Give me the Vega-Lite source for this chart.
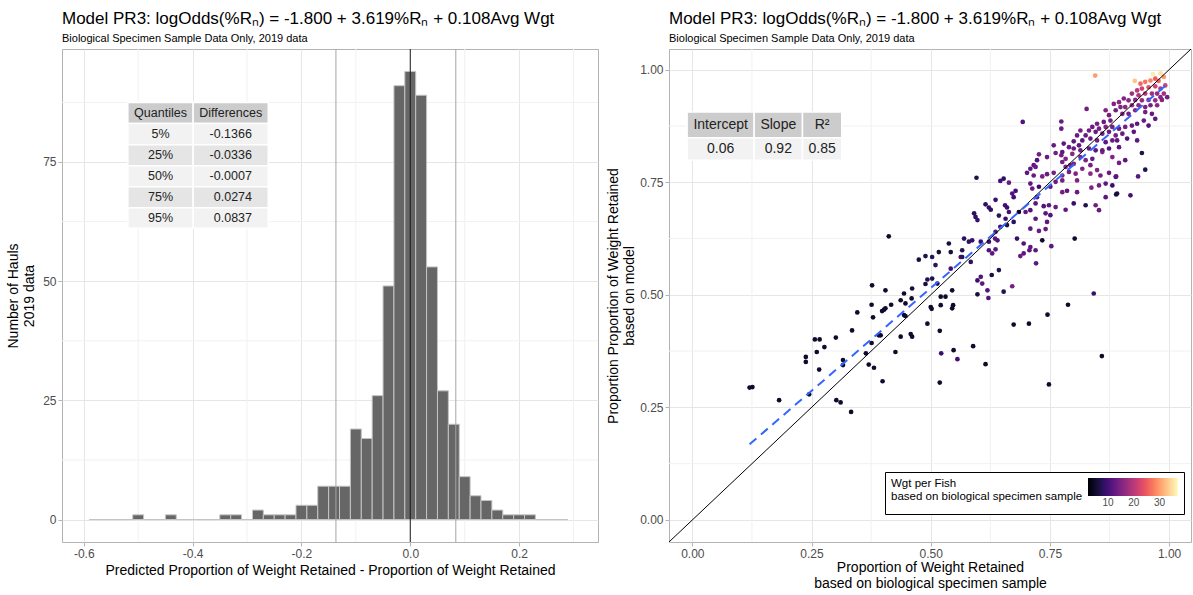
{
  "$schema": "https://vega.github.io/schema/vega-lite/v6.json",
  "config": {
    "font": "Liberation Sans",
    "view": {"stroke": "#b3b3b3", "strokeWidth": 1},
    "axis": {"gridColor": "#e6e6e6", "gridWidth": 1, "domain": false, "tickColor": "#b3b3b3", "tickSize": 4, "labelColor": "#4d4d4d", "labelFontSize": 12, "labelPadding": 2, "titleColor": "black", "titleFontSize": 14, "titleFontWeight": "normal", "titlePadding": 4},
    "title": {"anchor": "start", "fontSize": 17, "fontWeight": "normal", "color": "black", "subtitleFontSize": 11, "subtitleColor": "black", "subtitlePadding": 5, "offset": 4}
  },
  "padding": {"left": 6, "top": 9, "right": 0, "bottom": 0},
  "spacing": 7,
  "datasets": {
    "hist": [
      {"lo": -0.59, "hi": -0.57, "count": 0}, {"lo": -0.57, "hi": -0.55, "count": 0}, {"lo": -0.55, "hi": -0.53, "count": 0}, {"lo": -0.53, "hi": -0.51, "count": 0},
      {"lo": -0.51, "hi": -0.49, "count": 1}, {"lo": -0.49, "hi": -0.47, "count": 0}, {"lo": -0.47, "hi": -0.45, "count": 0}, {"lo": -0.45, "hi": -0.43, "count": 1},
      {"lo": -0.43, "hi": -0.41, "count": 0}, {"lo": -0.41, "hi": -0.39, "count": 0}, {"lo": -0.39, "hi": -0.37, "count": 0}, {"lo": -0.37, "hi": -0.35, "count": 0},
      {"lo": -0.35, "hi": -0.33, "count": 1}, {"lo": -0.33, "hi": -0.31, "count": 1}, {"lo": -0.31, "hi": -0.29, "count": 0}, {"lo": -0.29, "hi": -0.27, "count": 2},
      {"lo": -0.27, "hi": -0.25, "count": 1}, {"lo": -0.25, "hi": -0.23, "count": 1}, {"lo": -0.23, "hi": -0.21, "count": 1}, {"lo": -0.21, "hi": -0.19, "count": 3},
      {"lo": -0.19, "hi": -0.17, "count": 3}, {"lo": -0.17, "hi": -0.15, "count": 7}, {"lo": -0.15, "hi": -0.13, "count": 7}, {"lo": -0.13, "hi": -0.11, "count": 7},
      {"lo": -0.11, "hi": -0.09, "count": 19}, {"lo": -0.09, "hi": -0.07, "count": 17}, {"lo": -0.07, "hi": -0.05, "count": 26}, {"lo": -0.05, "hi": -0.03, "count": 49},
      {"lo": -0.03, "hi": -0.01, "count": 91}, {"lo": -0.01, "hi": 0.01, "count": 94}, {"lo": 0.01, "hi": 0.03, "count": 89}, {"lo": 0.03, "hi": 0.05, "count": 53},
      {"lo": 0.05, "hi": 0.07, "count": 27}, {"lo": 0.07, "hi": 0.09, "count": 20}, {"lo": 0.09, "hi": 0.11, "count": 9}, {"lo": 0.11, "hi": 0.13, "count": 5},
      {"lo": 0.13, "hi": 0.15, "count": 4}, {"lo": 0.15, "hi": 0.17, "count": 2}, {"lo": 0.17, "hi": 0.19, "count": 1}, {"lo": 0.19, "hi": 0.21, "count": 1},
      {"lo": 0.21, "hi": 0.23, "count": 1}, {"lo": 0.23, "hi": 0.25, "count": 0}, {"lo": 0.25, "hi": 0.27, "count": 0}, {"lo": 0.27, "hi": 0.29, "count": 0}
    ],
    "lminx": [{"v": -0.5}, {"v": -0.3}, {"v": -0.1}, {"v": 0.1}, {"v": 0.3}],
    "lminy": [{"v": 12.5}, {"v": 37.5}, {"v": 62.5}, {"v": 87.5}],
    "rmin": [{"v": 0.125}, {"v": 0.375}, {"v": 0.625}, {"v": 0.875}],
    "qlines": [{"x": -0.1366}, {"x": 0.0837}],
    "zline": [{"x": 0}],
    "lcells": [
      {"label": "Quantiles", "kind": "header", "x1": -0.519, "x2": -0.399, "cx": -0.459, "y1": 83.1, "y2": 87.5, "cy": 85.3},
      {"label": "Differences", "kind": "header", "x1": -0.399, "x2": -0.261, "cx": -0.33, "y1": 83.1, "y2": 87.5, "cy": 85.3},
      {"label": "5%", "kind": "odd", "x1": -0.519, "x2": -0.399, "cx": -0.459, "y1": 78.6, "y2": 83.1, "cy": 80.85},
      {"label": "-0.1366", "kind": "odd", "x1": -0.399, "x2": -0.261, "cx": -0.33, "y1": 78.6, "y2": 83.1, "cy": 80.85},
      {"label": "25%", "kind": "even", "x1": -0.519, "x2": -0.399, "cx": -0.459, "y1": 74.2, "y2": 78.6, "cy": 76.4},
      {"label": "-0.0336", "kind": "even", "x1": -0.399, "x2": -0.261, "cx": -0.33, "y1": 74.2, "y2": 78.6, "cy": 76.4},
      {"label": "50%", "kind": "odd", "x1": -0.519, "x2": -0.399, "cx": -0.459, "y1": 69.8, "y2": 74.2, "cy": 72.0},
      {"label": "-0.0007", "kind": "odd", "x1": -0.399, "x2": -0.261, "cx": -0.33, "y1": 69.8, "y2": 74.2, "cy": 72.0},
      {"label": "75%", "kind": "even", "x1": -0.519, "x2": -0.399, "cx": -0.459, "y1": 65.4, "y2": 69.8, "cy": 67.6},
      {"label": "0.0274", "kind": "even", "x1": -0.399, "x2": -0.261, "cx": -0.326, "y1": 65.4, "y2": 69.8, "cy": 67.6},
      {"label": "95%", "kind": "odd", "x1": -0.519, "x2": -0.399, "cx": -0.459, "y1": 61.1, "y2": 65.4, "cy": 63.25},
      {"label": "0.0837", "kind": "odd", "x1": -0.399, "x2": -0.261, "cx": -0.326, "y1": 61.1, "y2": 65.4, "cy": 63.25}
    ],
    "rcells": [
      {"label": "Intercept", "kind": "header", "x1": -0.011, "x2": 0.1296, "cx": 0.0593, "y1": 0.849, "y2": 0.906, "cy": 0.8775},
      {"label": "Slope", "kind": "header", "x1": 0.1296, "x2": 0.231, "cx": 0.1803, "y1": 0.849, "y2": 0.906, "cy": 0.8775},
      {"label": "R²", "kind": "header", "x1": 0.231, "x2": 0.3134, "cx": 0.2722, "y1": 0.849, "y2": 0.906, "cy": 0.8775},
      {"label": "0.06", "kind": "odd", "x1": -0.011, "x2": 0.1296, "cx": 0.0593, "y1": 0.799, "y2": 0.849, "cy": 0.824},
      {"label": "0.92", "kind": "odd", "x1": 0.1296, "x2": 0.231, "cx": 0.1803, "y1": 0.799, "y2": 0.849, "cy": 0.824},
      {"label": "0.85", "kind": "odd", "x1": 0.231, "x2": 0.3134, "cx": 0.2722, "y1": 0.799, "y2": 0.849, "cy": 0.824}
    ],
    "idline": [{"obs": -0.1, "pred": -0.1}, {"obs": 1.1, "pred": 1.1}],
    "fitline": [{"obs": 0.12, "pred": 0.168}, {"obs": 0.995, "pred": 0.967}],
    "pts": [
      {"obs":0.727,"pred":0.812,"wgt":14},{"obs":0.744,"pred":0.806,"wgt":13},{"obs":0.762,"pred":0.815,"wgt":14},{"obs":0.774,"pred":0.810,"wgt":14},{"obs":0.783,"pred":0.802,"wgt":15},
      {"obs":0.797,"pred":0.813,"wgt":16},{"obs":0.800,"pred":0.791,"wgt":14},{"obs":0.814,"pred":0.806,"wgt":15},{"obs":0.825,"pred":0.799,"wgt":15},{"obs":0.835,"pred":0.788,"wgt":14},
      {"obs":0.860,"pred":0.817,"wgt":16},{"obs":0.881,"pred":0.806,"wgt":15},{"obs":0.895,"pred":0.793,"wgt":14},{"obs":0.716,"pred":0.788,"wgt":12},{"obs":0.709,"pred":0.780,"wgt":12},
      {"obs":0.720,"pred":0.784,"wgt":13},{"obs":0.702,"pred":0.771,"wgt":12},{"obs":0.716,"pred":0.765,"wgt":13},{"obs":0.734,"pred":0.763,"wgt":14},{"obs":0.744,"pred":0.768,"wgt":13},
      {"obs":0.758,"pred":0.771,"wgt":14},{"obs":0.776,"pred":0.765,"wgt":15},{"obs":0.790,"pred":0.773,"wgt":14},{"obs":0.804,"pred":0.769,"wgt":15},{"obs":0.818,"pred":0.780,"wgt":15},
      {"obs":0.835,"pred":0.769,"wgt":16},{"obs":0.849,"pred":0.777,"wgt":15},{"obs":0.856,"pred":0.765,"wgt":14},{"obs":0.874,"pred":0.771,"wgt":13},{"obs":0.888,"pred":0.762,"wgt":9},
      {"obs":0.776,"pred":0.795,"wgt":14},{"obs":0.783,"pred":0.784,"wgt":15},{"obs":0.793,"pred":0.788,"wgt":14},{"obs":0.807,"pred":0.754,"wgt":15},{"obs":0.776,"pred":0.754,"wgt":14},
      {"obs":0.762,"pred":0.751,"wgt":13},{"obs":0.596,"pred":0.760,"wgt":7},{"obs":0.646,"pred":0.753,"wgt":10},{"obs":0.653,"pred":0.758,"wgt":8},{"obs":0.664,"pred":0.749,"wgt":13},
      {"obs":0.709,"pred":0.747,"wgt":12},{"obs":0.727,"pred":0.740,"wgt":9},{"obs":0.713,"pred":0.736,"wgt":13},{"obs":0.751,"pred":0.740,"wgt":12},{"obs":0.776,"pred":0.728,"wgt":14},
      {"obs":0.786,"pred":0.731,"wgt":12},{"obs":0.807,"pred":0.728,"wgt":13},{"obs":0.837,"pred":0.738,"wgt":15},{"obs":0.853,"pred":0.743,"wgt":14},{"obs":0.867,"pred":0.747,"wgt":12},
      {"obs":0.881,"pred":0.743,"wgt":9},{"obs":0.891,"pred":0.725,"wgt":7},{"obs":0.867,"pred":0.717,"wgt":12},{"obs":0.846,"pred":0.699,"wgt":14},{"obs":0.825,"pred":0.699,"wgt":7},
      {"obs":0.853,"pred":0.688,"wgt":13},{"obs":0.800,"pred":0.703,"wgt":9},{"obs":0.783,"pred":0.689,"wgt":12},{"obs":0.762,"pred":0.695,"wgt":13},{"obs":0.748,"pred":0.699,"wgt":12},
      {"obs":0.737,"pred":0.697,"wgt":11},{"obs":0.723,"pred":0.717,"wgt":12},{"obs":0.720,"pred":0.703,"wgt":12},{"obs":0.709,"pred":0.688,"wgt":11},{"obs":0.699,"pred":0.684,"wgt":12},
      {"obs":0.678,"pred":0.731,"wgt":10},{"obs":0.671,"pred":0.725,"wgt":11},{"obs":0.674,"pred":0.717,"wgt":10},{"obs":0.636,"pred":0.711,"wgt":9},{"obs":0.615,"pred":0.701,"wgt":8},
      {"obs":0.622,"pred":0.694,"wgt":9},{"obs":0.626,"pred":0.689,"wgt":8},{"obs":0.656,"pred":0.699,"wgt":10},{"obs":0.660,"pred":0.694,"wgt":9},{"obs":0.664,"pred":0.684,"wgt":10},
      {"obs":0.643,"pred":0.676,"wgt":8},{"obs":0.591,"pred":0.681,"wgt":8},{"obs":0.594,"pred":0.673,"wgt":8},{"obs":0.598,"pred":0.666,"wgt":9},{"obs":0.685,"pred":0.684,"wgt":5},
      {"obs":0.741,"pred":0.681,"wgt":12},{"obs":0.751,"pred":0.677,"wgt":11},{"obs":0.744,"pred":0.662,"wgt":12},{"obs":0.720,"pred":0.669,"wgt":12},{"obs":0.657,"pred":0.669,"wgt":9},
      {"obs":0.674,"pred":0.662,"wgt":8},{"obs":0.660,"pred":0.655,"wgt":6},{"obs":0.646,"pred":0.651,"wgt":10},{"obs":0.636,"pred":0.640,"wgt":11},{"obs":0.635,"pred":0.625,"wgt":12},
      {"obs":0.640,"pred":0.621,"wgt":11},{"obs":0.622,"pred":0.618,"wgt":9},{"obs":0.605,"pred":0.618,"wgt":9},{"obs":0.587,"pred":0.621,"wgt":9},{"obs":0.580,"pred":0.618,"wgt":8},
      {"obs":0.570,"pred":0.625,"wgt":8},{"obs":0.566,"pred":0.599,"wgt":7},{"obs":0.566,"pred":0.584,"wgt":7},{"obs":0.538,"pred":0.614,"wgt":6},{"obs":0.542,"pred":0.595,"wgt":6},
      {"obs":0.517,"pred":0.595,"wgt":6},{"obs":0.503,"pred":0.584,"wgt":8},{"obs":0.489,"pred":0.586,"wgt":7},{"obs":0.475,"pred":0.578,"wgt":6},{"obs":0.510,"pred":0.566,"wgt":8},
      {"obs":0.563,"pred":0.584,"wgt":9},{"obs":0.584,"pred":0.573,"wgt":8},{"obs":0.622,"pred":0.599,"wgt":11},{"obs":0.629,"pred":0.592,"wgt":12},{"obs":0.636,"pred":0.601,"wgt":12},
      {"obs":0.681,"pred":0.625,"wgt":9},{"obs":0.695,"pred":0.614,"wgt":11},{"obs":0.709,"pred":0.647,"wgt":12},{"obs":0.727,"pred":0.642,"wgt":13},{"obs":0.741,"pred":0.646,"wgt":13},
      {"obs":0.734,"pred":0.621,"wgt":5},{"obs":0.753,"pred":0.608,"wgt":12},{"obs":0.709,"pred":0.606,"wgt":12},{"obs":0.707,"pred":0.599,"wgt":12},{"obs":0.695,"pred":0.592,"wgt":12},
      {"obs":0.688,"pred":0.586,"wgt":13},{"obs":0.720,"pred":0.599,"wgt":12},{"obs":0.721,"pred":0.570,"wgt":12},{"obs":0.802,"pred":0.625,"wgt":5},{"obs":0.598,"pred":0.532,"wgt":9},
      {"obs":0.605,"pred":0.540,"wgt":11},{"obs":0.608,"pred":0.525,"wgt":12},{"obs":0.619,"pred":0.510,"wgt":11},{"obs":0.621,"pred":0.493,"wgt":11},{"obs":0.628,"pred":0.544,"wgt":6},
      {"obs":0.643,"pred":0.555,"wgt":7},{"obs":0.653,"pred":0.507,"wgt":7},{"obs":0.671,"pred":0.519,"wgt":14},{"obs":0.598,"pred":0.501,"wgt":6},{"obs":0.542,"pred":0.558,"wgt":10},
      {"obs":0.514,"pred":0.525,"wgt":7},{"obs":0.503,"pred":0.536,"wgt":7},{"obs":0.493,"pred":0.534,"wgt":7},{"obs":0.489,"pred":0.524,"wgt":6},{"obs":0.461,"pred":0.514,"wgt":6},
      {"obs":0.444,"pred":0.503,"wgt":5},{"obs":0.460,"pred":0.492,"wgt":5},{"obs":0.447,"pred":0.481,"wgt":5},{"obs":0.437,"pred":0.488,"wgt":5},{"obs":0.521,"pred":0.496,"wgt":5},
      {"obs":0.531,"pred":0.496,"wgt":5},{"obs":0.545,"pred":0.510,"wgt":5},{"obs":0.547,"pred":0.477,"wgt":5},{"obs":0.545,"pred":0.470,"wgt":5},{"obs":0.521,"pred":0.477,"wgt":5},
      {"obs":0.500,"pred":0.473,"wgt":5},{"obs":0.502,"pred":0.469,"wgt":5},{"obs":0.444,"pred":0.455,"wgt":5},{"obs":0.447,"pred":0.453,"wgt":5},{"obs":0.493,"pred":0.436,"wgt":5},
      {"obs":0.519,"pred":0.420,"wgt":5},{"obs":0.458,"pred":0.413,"wgt":5},{"obs":0.461,"pred":0.407,"wgt":5},{"obs":0.437,"pred":0.407,"wgt":5},{"obs":0.674,"pred":0.434,"wgt":5},
      {"obs":0.706,"pred":0.436,"wgt":5},{"obs":0.745,"pred":0.456,"wgt":5},{"obs":0.788,"pred":0.478,"wgt":5},{"obs":0.842,"pred":0.503,"wgt":9},
      {"obs":0.845,"pred":0.987,"wgt":30},{"obs":0.966,"pred":0.990,"wgt":36},{"obs":0.982,"pred":0.992,"wgt":35},{"obs":0.989,"pred":0.984,"wgt":30},{"obs":0.928,"pred":0.975,"wgt":33},
      {"obs":0.940,"pred":0.969,"wgt":26},{"obs":0.950,"pred":0.973,"wgt":27},{"obs":0.961,"pred":0.976,"wgt":28},{"obs":0.971,"pred":0.980,"wgt":25},{"obs":0.978,"pred":0.975,"wgt":26},
      {"obs":0.992,"pred":0.965,"wgt":22},{"obs":0.957,"pred":0.961,"wgt":24},{"obs":0.971,"pred":0.963,"wgt":22},{"obs":0.982,"pred":0.958,"wgt":20},{"obs":0.943,"pred":0.958,"wgt":22},
      {"obs":0.933,"pred":0.954,"wgt":20},{"obs":0.922,"pred":0.947,"wgt":18},{"obs":0.936,"pred":0.943,"wgt":19},{"obs":0.950,"pred":0.947,"wgt":20},{"obs":0.964,"pred":0.947,"wgt":18},
      {"obs":0.975,"pred":0.947,"wgt":17},{"obs":0.989,"pred":0.947,"wgt":18},{"obs":0.982,"pred":0.939,"wgt":16},{"obs":0.971,"pred":0.932,"wgt":17},{"obs":0.957,"pred":0.933,"wgt":16},
      {"obs":0.943,"pred":0.932,"wgt":17},{"obs":0.929,"pred":0.933,"wgt":16},{"obs":0.915,"pred":0.932,"wgt":16},{"obs":0.905,"pred":0.936,"wgt":15},{"obs":0.895,"pred":0.928,"wgt":16},
      {"obs":0.884,"pred":0.924,"wgt":15},{"obs":0.898,"pred":0.917,"wgt":15},{"obs":0.908,"pred":0.917,"wgt":16},{"obs":0.922,"pred":0.921,"wgt":17},{"obs":0.936,"pred":0.921,"wgt":16},
      {"obs":0.950,"pred":0.917,"wgt":15},{"obs":0.961,"pred":0.921,"wgt":14},{"obs":0.975,"pred":0.921,"wgt":16},{"obs":0.985,"pred":0.933,"wgt":15},{"obs":0.996,"pred":0.939,"wgt":14},
      {"obs":0.964,"pred":0.902,"wgt":13},{"obs":0.950,"pred":0.906,"wgt":14},{"obs":0.929,"pred":0.910,"wgt":15},{"obs":0.915,"pred":0.902,"wgt":14},{"obs":0.902,"pred":0.902,"wgt":15},
      {"obs":0.888,"pred":0.910,"wgt":14},{"obs":0.874,"pred":0.899,"wgt":14},{"obs":0.867,"pred":0.910,"wgt":15},{"obs":0.877,"pred":0.887,"wgt":14},{"obs":0.863,"pred":0.884,"wgt":13},
      {"obs":0.849,"pred":0.880,"wgt":14},{"obs":0.839,"pred":0.873,"wgt":13},{"obs":0.853,"pred":0.869,"wgt":14},{"obs":0.867,"pred":0.873,"wgt":15},{"obs":0.881,"pred":0.873,"wgt":14},
      {"obs":0.895,"pred":0.869,"wgt":13},{"obs":0.908,"pred":0.873,"wgt":14},{"obs":0.922,"pred":0.876,"wgt":13},{"obs":0.933,"pred":0.880,"wgt":12},{"obs":0.947,"pred":0.887,"wgt":13},
      {"obs":0.971,"pred":0.891,"wgt":12},{"obs":0.957,"pred":0.876,"wgt":11},{"obs":0.926,"pred":0.862,"wgt":12},{"obs":0.902,"pred":0.858,"wgt":13},{"obs":0.888,"pred":0.854,"wgt":14},
      {"obs":0.874,"pred":0.862,"wgt":13},{"obs":0.860,"pred":0.858,"wgt":14},{"obs":0.846,"pred":0.862,"wgt":13},{"obs":0.832,"pred":0.865,"wgt":14},{"obs":0.825,"pred":0.854,"wgt":13},
      {"obs":0.818,"pred":0.843,"wgt":12},{"obs":0.835,"pred":0.847,"wgt":13},{"obs":0.849,"pred":0.843,"wgt":14},{"obs":0.867,"pred":0.839,"wgt":12},{"obs":0.881,"pred":0.843,"wgt":13},
      {"obs":0.891,"pred":0.843,"wgt":12},{"obs":0.912,"pred":0.847,"wgt":11},{"obs":0.933,"pred":0.843,"wgt":12},{"obs":0.811,"pred":0.832,"wgt":12},{"obs":0.800,"pred":0.825,"wgt":13},
      {"obs":0.814,"pred":0.821,"wgt":14},{"obs":0.832,"pred":0.825,"wgt":13},{"obs":0.846,"pred":0.821,"wgt":12},{"obs":0.860,"pred":0.821,"wgt":13},{"obs":0.874,"pred":0.825,"wgt":11},
      {"obs":0.895,"pred":0.828,"wgt":12},{"obs":0.790,"pred":0.828,"wgt":13},{"obs":0.779,"pred":0.836,"wgt":12},{"obs":0.758,"pred":0.832,"wgt":13},{"obs":0.776,"pred":0.817,"wgt":12},
      {"obs":0.943,"pred":0.815,"wgt":7},{"obs":0.908,"pred":0.799,"wgt":12},{"obs":0.723,"pred":0.799,"wgt":11},{"obs":0.839,"pred":0.802,"wgt":13},{"obs":0.693,"pred":0.884,"wgt":11},
      {"obs":0.774,"pred":0.885,"wgt":13},{"obs":0.774,"pred":0.869,"wgt":13},{"obs":0.827,"pred":0.913,"wgt":14},{"obs":0.800,"pred":0.841,"wgt":12},{"obs":0.807,"pred":0.854,"wgt":13},
      {"obs":0.814,"pred":0.865,"wgt":14},
      {"obs":0.950,"pred":0.778,"wgt":7},{"obs":0.935,"pred":0.763,"wgt":12},{"obs":0.919,"pred":0.721,"wgt":10},{"obs":0.889,"pred":0.723,"wgt":6},{"obs":0.889,"pred":0.763,"wgt":12},
      {"obs":0.412,"pred":0.630,"wgt":5},{"obs":0.377,"pred":0.521,"wgt":5},{"obs":0.405,"pred":0.510,"wgt":5},{"obs":0.376,"pred":0.478,"wgt":5},{"obs":0.417,"pred":0.478,"wgt":5},
      {"obs":0.346,"pred":0.461,"wgt":5},{"obs":0.379,"pred":0.450,"wgt":5},{"obs":0.398,"pred":0.464,"wgt":5},{"obs":0.402,"pred":0.467,"wgt":5},{"obs":0.405,"pred":0.470,"wgt":5},
      {"obs":0.301,"pred":0.405,"wgt":5},{"obs":0.335,"pred":0.421,"wgt":5},{"obs":0.257,"pred":0.401,"wgt":5},{"obs":0.267,"pred":0.401,"wgt":5},{"obs":0.277,"pred":0.384,"wgt":5},
      {"obs":0.261,"pred":0.373,"wgt":5},{"obs":0.376,"pred":0.393,"wgt":5},{"obs":0.391,"pred":0.410,"wgt":5},{"obs":0.395,"pred":0.410,"wgt":5},{"obs":0.238,"pred":0.362,"wgt":5},
      {"obs":0.238,"pred":0.351,"wgt":5},{"obs":0.266,"pred":0.334,"wgt":5},{"obs":0.316,"pred":0.355,"wgt":5},{"obs":0.316,"pred":0.344,"wgt":5},{"obs":0.364,"pred":0.370,"wgt":5},
      {"obs":0.370,"pred":0.345,"wgt":5},{"obs":0.381,"pred":0.338,"wgt":5},{"obs":0.426,"pred":0.373,"wgt":5},{"obs":0.399,"pred":0.308,"wgt":5},{"obs":0.120,"pred":0.294,"wgt":5},
      {"obs":0.126,"pred":0.295,"wgt":5},{"obs":0.182,"pred":0.266,"wgt":5},{"obs":0.245,"pred":0.279,"wgt":5},{"obs":0.302,"pred":0.266,"wgt":5},{"obs":0.311,"pred":0.261,"wgt":5},
      {"obs":0.333,"pred":0.240,"wgt":5},
      {"obs":0.859,"pred":0.364,"wgt":5},{"obs":0.748,"pred":0.301,"wgt":5},{"obs":0.615,"pred":0.346,"wgt":5},{"obs":0.589,"pred":0.386,"wgt":5},{"obs":0.556,"pred":0.357,"wgt":10},
      {"obs":0.522,"pred":0.370,"wgt":9},{"obs":0.519,"pred":0.305,"wgt":5},{"obs":0.548,"pred":0.377,"wgt":5}
    ]
  },
  "hconcat": [
    {
      "width": 536,
      "height": 493,
      "title": {"text": "Model PR3: logOdds(%Rₙ) = -1.800 + 3.619%Rₙ + 0.108Avg Wgt", "subtitle": "Biological Specimen Sample Data Only, 2019 data", "frame": "group"},
      "layer": [
        {"data": {"name": "lminx"}, "mark": {"type": "rule", "color": "#f1f1f1", "strokeWidth": 1},
         "encoding": {"x": {"field": "v", "type": "quantitative", "scale": {"domain": [-0.64, 0.345], "nice": false, "zero": false}}}},
        {"data": {"name": "lminy"}, "mark": {"type": "rule", "color": "#f1f1f1", "strokeWidth": 1},
         "encoding": {"y": {"field": "v", "type": "quantitative", "scale": {"domain": [-4.7, 98.7], "nice": false, "zero": false}}}},
        {"data": {"name": "hist"}, "mark": {"type": "rect", "fill": "#666666", "stroke": "#c4c4c4", "strokeWidth": 1},
         "encoding": {
           "x": {"field": "lo", "type": "quantitative", "scale": {"domain": [-0.64, 0.345], "nice": false, "zero": false},
                 "axis": {"values": [-0.6, -0.4, -0.2, 0, 0.2], "format": ".1f", "labelExpr": "replace(datum.label, '−', '-')", "title": "Predicted Proportion of Weight Retained - Proportion of Weight Retained"}},
           "x2": {"field": "hi"},
           "y": {"field": "count", "type": "quantitative", "scale": {"domain": [-4.7, 98.7], "nice": false, "zero": false},
                 "axis": {"values": [0, 25, 50, 75], "title": ["Number of Hauls", "2019 data"], "titlePadding": 6}},
           "y2": {"datum": 0}
         }},
        {"data": {"name": "qlines"}, "mark": {"type": "rule", "color": "#a6a6a6", "strokeWidth": 1},
         "encoding": {"x": {"field": "x", "type": "quantitative", "scale": {"domain": [-0.64, 0.345], "nice": false, "zero": false}}}},
        {"data": {"name": "zline"}, "mark": {"type": "rule", "color": "#1a1a1a", "strokeWidth": 1},
         "encoding": {"x": {"field": "x", "type": "quantitative", "scale": {"domain": [-0.64, 0.345], "nice": false, "zero": false}}}},
        {"data": {"name": "lcells"}, "mark": {"type": "rect", "stroke": "white", "strokeWidth": 1.5},
         "encoding": {
           "x": {"field": "x1", "type": "quantitative", "scale": {"domain": [-0.64, 0.345], "nice": false, "zero": false}},
           "x2": {"field": "x2"},
           "y": {"field": "y1", "type": "quantitative", "scale": {"domain": [-4.7, 98.7], "nice": false, "zero": false}},
           "y2": {"field": "y2"},
           "fill": {"field": "kind", "type": "nominal", "scale": {"domain": ["header", "odd", "even"], "range": ["#cccccc", "#f2f2f2", "#e5e5e5"]}, "legend": null}
         }},
        {"data": {"name": "lcells"}, "mark": {"type": "text", "fontSize": 12.5, "color": "#222222", "baseline": "middle", "align": "center"},
         "encoding": {
           "x": {"field": "cx", "type": "quantitative", "scale": {"domain": [-0.64, 0.345], "nice": false, "zero": false}},
           "y": {"field": "cy", "type": "quantitative", "scale": {"domain": [-4.7, 98.7], "nice": false, "zero": false}},
           "text": {"field": "label", "type": "nominal"}
         }}
      ]
    },
    {
      "width": 522,
      "height": 493,
      "title": {"text": "Model PR3: logOdds(%Rₙ) = -1.800 + 3.619%Rₙ + 0.108Avg Wgt", "subtitle": "Biological Specimen Sample Data Only, 2019 data", "frame": "group"},
      "layer": [
        {"data": {"name": "rmin"}, "mark": {"type": "rule", "color": "#f1f1f1", "strokeWidth": 1},
         "encoding": {"x": {"field": "v", "type": "quantitative", "scale": {"domain": [-0.049, 1.046], "nice": false, "zero": false}}}},
        {"data": {"name": "rmin"}, "mark": {"type": "rule", "color": "#f1f1f1", "strokeWidth": 1},
         "encoding": {"y": {"field": "v", "type": "quantitative", "scale": {"domain": [-0.049, 1.046], "nice": false, "zero": false}}}},
        {"data": {"name": "pts"}, "mark": {"type": "circle", "size": 22, "opacity": 1},
         "encoding": {
           "x": {"field": "obs", "type": "quantitative", "scale": {"domain": [-0.049, 1.046], "nice": false, "zero": false},
                 "axis": {"values": [0, 0.25, 0.5, 0.75, 1], "format": ".2f", "title": ["Proportion of Weight Retained", "based on biological specimen sample"], "titlePadding": 1}},
           "y": {"field": "pred", "type": "quantitative", "scale": {"domain": [-0.049, 1.046], "nice": false, "zero": false},
                 "axis": {"values": [0, 0.25, 0.5, 0.75, 1], "format": ".2f", "title": ["Proportion Proportion of Weight Retained", "based on model"], "titlePadding": 3}},
           "color": {"field": "wgt", "type": "quantitative", "scale": {"scheme": "magma", "domain": [2.2, 37.2]},
                     "legend": {"title": ["Wgt per Fish", "based on biological specimen sample"], "orient": "none", "legendX": 823, "legendY": 423, "direction": "horizontal", "titleOrient": "left", "titleAnchor": "end", "titleBaseline": "top", "titleLineHeight": 12.5, "values": [10, 20, 30], "gradientLength": 90, "gradientThickness": 18, "labelFontSize": 10, "labelColor": "#4d4d4d", "titleFontSize": 11.5, "titleFontWeight": "normal", "titleColor": "black", "titleLimit": 300, "titlePadding": 5, "strokeColor": "black", "fillColor": "white", "padding": 6, "gradientStrokeWidth": 0}}
         }},
        {"data": {"name": "idline"}, "mark": {"type": "line", "color": "black", "strokeWidth": 1, "clip": true},
         "encoding": {
           "x": {"field": "obs", "type": "quantitative", "scale": {"domain": [-0.049, 1.046], "nice": false, "zero": false}},
           "y": {"field": "pred", "type": "quantitative", "scale": {"domain": [-0.049, 1.046], "nice": false, "zero": false}}
         }},
        {"data": {"name": "fitline"}, "mark": {"type": "line", "color": "#3366FF", "strokeWidth": 2, "strokeDash": [9, 6]},
         "encoding": {
           "x": {"field": "obs", "type": "quantitative", "scale": {"domain": [-0.049, 1.046], "nice": false, "zero": false}},
           "y": {"field": "pred", "type": "quantitative", "scale": {"domain": [-0.049, 1.046], "nice": false, "zero": false}}
         }},
        {"data": {"name": "rcells"}, "mark": {"type": "rect", "stroke": "white", "strokeWidth": 1.5},
         "encoding": {
           "x": {"field": "x1", "type": "quantitative", "scale": {"domain": [-0.049, 1.046], "nice": false, "zero": false}},
           "x2": {"field": "x2"},
           "y": {"field": "y1", "type": "quantitative", "scale": {"domain": [-0.049, 1.046], "nice": false, "zero": false}},
           "y2": {"field": "y2"},
           "fill": {"field": "kind", "type": "nominal", "scale": {"domain": ["header", "odd", "even"], "range": ["#cccccc", "#f2f2f2", "#e5e5e5"]}, "legend": null}
         }},
        {"data": {"name": "rcells"}, "mark": {"type": "text", "fontSize": 14, "color": "#222222", "baseline": "middle", "align": "center"},
         "encoding": {
           "x": {"field": "cx", "type": "quantitative", "scale": {"domain": [-0.049, 1.046], "nice": false, "zero": false}},
           "y": {"field": "cy", "type": "quantitative", "scale": {"domain": [-0.049, 1.046], "nice": false, "zero": false}},
           "text": {"field": "label", "type": "nominal"}
         }}
      ],
      "resolve": {"scale": {"fill": "independent"}}
    }
  ]
}
